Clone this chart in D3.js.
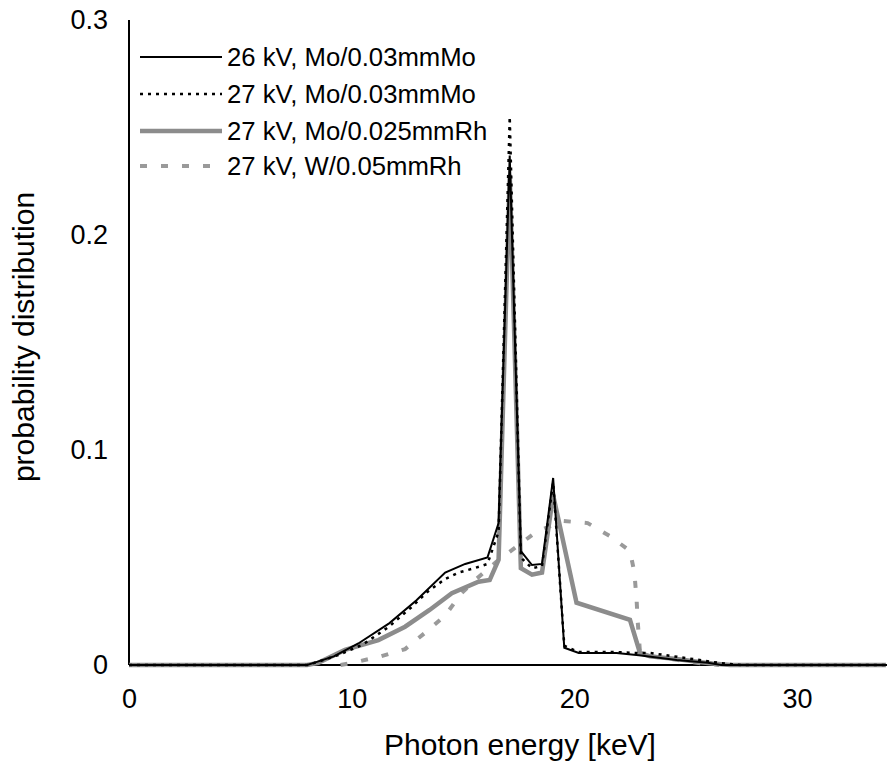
<!DOCTYPE html>
<html>
<head>
<meta charset="utf-8">
<script src="https://cdn.jsdelivr.net/npm/d3@7"></script>
<style>
  html, body { margin: 0; padding: 0; background: #fff; }
  svg { display: block; font-family: "Liberation Sans", Arial, sans-serif; }
</style>
</head>
<body>
<svg id="chart" width="887" height="763"></svg>
<script>
// ---- data: [photon energy keV, probability] ----
const seriesNames = [
  "26 kV, Mo/0.03mmMo",
  "27 kV, Mo/0.03mmMo",
  "27 kV, Mo/0.025mmRh",
  "27 kV, W/0.05mmRh"
];
const mo26Mo = [[0,0],[8.0,0],[8.3,0.001],[9.2,0.004],[10.3,0.010],[11.7,0.0195],[12.9,0.030],[14.2,0.043],[15.1,0.047],[16.1,0.050],[16.6,0.066],[17.1,0.237],[17.6,0.053],[18.1,0.0465],[18.55,0.047],[19.05,0.087],[19.55,0.008],[20.2,0.0056],[21.9,0.0056],[22.9,0.0045],[24.6,0.0023],[26.0,0.001],[26.6,0],[34,0]];
const mo27Mo = [[0,0],[8.0,0],[8.5,0.0015],[9.5,0.005],[10.5,0.0095],[11.7,0.018],[12.7,0.027],[13.4,0.034],[14.2,0.040],[14.8,0.043],[15.5,0.045],[16.1,0.047],[16.6,0.062],[17.1,0.255],[17.6,0.050],[18.1,0.045],[18.55,0.046],[19.05,0.085],[19.55,0.009],[20.2,0.006],[21.9,0.006],[22.9,0.0055],[23.4,0.0056],[24.5,0.004],[25.5,0.0025],[26.5,0.001],[27.5,0],[34,0]];
const mo27Rh = [[0,0],[8.0,0],[8.5,0.001],[9.7,0.007],[11.2,0.0116],[12.4,0.0178],[13.5,0.0256],[14.5,0.0334],[15.7,0.0387],[16.2,0.0395],[16.6,0.049],[17.1,0.228],[17.6,0.045],[18.1,0.042],[18.55,0.043],[19.05,0.079],[20.1,0.029],[22.5,0.021],[22.95,0.0056],[23.4,0.004],[24.6,0.0028],[25.6,0.0014],[26.2,0.0007],[27,0],[34,0]];
const w27Rh = [[9.5,0],[10.2,0.0014],[11.3,0.004],[12.4,0.0074],[13.3,0.015],[14.2,0.023],[14.9,0.033],[15.6,0.040],[16.5,0.048],[17.4,0.055],[18.3,0.062],[19.5,0.067],[20.6,0.066],[21.6,0.060],[22.5,0.053],[22.7,0.043],[22.8,0.030],[22.85,0.020],[22.95,0.006],[23.5,0.004],[24.5,0.0025],[25.5,0.001],[26.5,0]];
const xTicks = [0, 10, 20, 30];
const yTicks = [0, 0.1, 0.2, 0.3];
const yTickLabels = ["0", "0.1", "0.2", "0.3"];

// ---- layout ----
const svg = d3.select("#chart");
const x = d3.scaleLinear().domain([0, 34]).range([129, 886]);
const y = d3.scaleLinear().domain([0, 0.3]).range([665, 20]);

// axes (lines only, labels without tick marks)
const xAxis = d3.axisBottom(x).tickValues(xTicks).tickSize(0).tickPadding(24).tickFormat(d3.format("d"));
const yAxis = d3.axisLeft(y).tickValues(yTicks).tickSize(0).tickPadding(21).tickFormat((d, i) => yTickLabels[i]);

const gx = svg.append("g").attr("transform", `translate(0,${y(0)})`).call(xAxis);
const gy = svg.append("g").attr("transform", `translate(${x(0)},0)`).call(yAxis);
[gx, gy].forEach(g => {
  g.select(".domain").attr("stroke", "#000").attr("stroke-width", 2);
  g.selectAll("text").attr("font-size", 27).attr("fill", "#000")
    .attr("font-family", "'Liberation Sans', Arial, sans-serif");
});
gx.select(".domain").attr("d", `M${x(0)},0H887`);
gy.select(".domain").attr("d", `M0,${y(0)}V${y(0.3)}`);

// axis titles
svg.append("text").attr("x", 520).attr("y", 755).attr("text-anchor", "middle")
  .attr("font-size", 30).text("Photon energy [keV]");
svg.append("text").attr("transform", "translate(34,337) rotate(-90)").attr("text-anchor", "middle")
  .attr("font-size", 30).text("probability distribution");

// series styles
const styles = [
  { data: mo26Mo, stroke: "#000", width: 2, dash: null },
  { data: mo27Mo, stroke: "#000", width: 2.5, dash: "3,5" },
  { data: mo27Rh, stroke: "#8c8c8c", width: 4.5, dash: null },
  { data: w27Rh, stroke: "#9a9a9a", width: 4, dash: "7,14" }
];
const line = d3.line().x(d => x(d[0])).y(d => y(d[1]));
const drawOrder = [3, 2, 0, 1];
drawOrder.forEach(i => {
  const s = styles[i];
  svg.append("path").datum(s.data).attr("d", line)
    .attr("fill", "none").attr("stroke", s.stroke).attr("stroke-width", s.width)
    .attr("stroke-dasharray", s.dash).attr("stroke-linejoin", "miter");
});

// legend
const legendY = [57, 94, 131, 166];
seriesNames.forEach((name, i) => {
  const s = styles[i];
  svg.append("line").attr("x1", 140).attr("x2", 222).attr("y1", legendY[i]).attr("y2", legendY[i])
    .attr("stroke", s.stroke).attr("stroke-width", s.width).attr("stroke-dasharray", s.dash);
  svg.append("text").attr("x", 227).attr("y", legendY[i]).attr("dy", "0.35em")
    .attr("font-size", 25.7).text(name);
});
</script>
</body>
</html>
